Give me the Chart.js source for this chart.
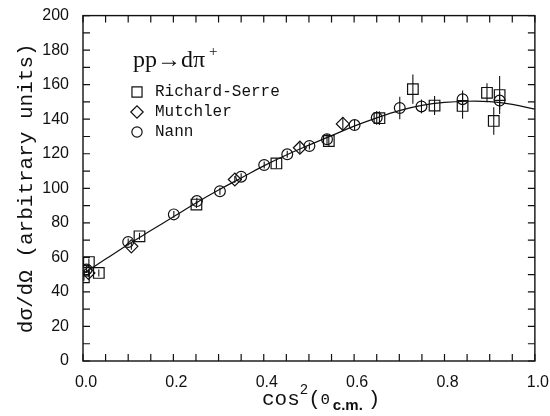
<!DOCTYPE html>
<html>
<head>
<meta charset="utf-8">
<script src="https://cdn.jsdelivr.net/npm/chart.js@4.4.1/dist/chart.umd.min.js"></script>
<style>
  body { margin: 0; background: #fff; }
  canvas { display: block; }
</style>
</head>
<body>
<canvas id="grafico" width="550" height="416"></canvas>
<script>
// Richard-Serre (quadrados)
const rsX = [0.002, 0.002, 0.013, 0.035, 0.125, 0.251, 0.428, 0.544, 0.656, 0.730, 0.778, 0.840, 0.894, 0.909, 0.922];
const rsY = [48.5, 52.3, 57.3, 51.0, 72.2, 90.6, 114.4, 127.4, 140.6, 157.4, 147.9, 147.7, 155.3, 139.0, 154.0];
const rsErr = [2, 2, 2, 2, 2, 2, 3, 3, 4, 8.5, 5.5, 7.5, 5.5, 8, 11];

// Mutchler (losangos)
const muX = [0.012, 0.107, 0.336, 0.480, 0.575];
const muY = [51.0, 66.4, 105.1, 123.5, 137.3];
const muErr = [2, 2, 2, 3, 4];

// Nann (circulos)
const naX = [0.008, 0.100, 0.201, 0.252, 0.303, 0.350, 0.401, 0.452, 0.501, 0.540, 0.601, 0.650, 0.701, 0.749, 0.840, 0.922];
const naY = [53.0, 68.9, 84.9, 92.6, 98.3, 106.7, 113.5, 119.7, 124.5, 128.4, 136.6, 140.8, 146.5, 147.4, 151.6, 150.8];
const naErr = [2, 2, 2, 2, 2, 2, 2, 2, 2, 3, 3, 4, 6.5, 4, 5, 5];

// curva ajustada
const fitX = [0, 0.05, 0.1, 0.15, 0.2, 0.25, 0.3, 0.35, 0.4, 0.45, 0.5, 0.55, 0.6, 0.65, 0.7, 0.75, 0.8, 0.85, 0.9, 0.95, 1.0];
const fitY = [50.5, 59, 67.5, 75.5, 83.5, 91.5, 99, 106, 113, 119.3, 125, 130.5, 136, 140.8, 145, 148, 149.7, 150.4, 150.2, 148.6, 145.8];

const cor = '#111';

function pontos(xs, ys) {
  return xs.map((x, i) => ({ x: x, y: ys[i] }));
}

const serieBase = {
  borderColor: cor,
  backgroundColor: 'rgba(0,0,0,0)',
  pointBorderWidth: 1.2,
  showLine: false
};

// moldura e marcas de escala nos quatro lados
const moldura = {
  id: 'moldura',
  afterDatasetsDraw(chart) {
    const { ctx, chartArea: a, scales: { x, y } } = chart;
    ctx.save();
    ctx.strokeStyle = cor;
    ctx.lineWidth = 1.4;
    ctx.strokeRect(a.left, a.top, a.right - a.left, a.bottom - a.top);
    ctx.lineWidth = 1.2;
    ctx.beginPath();
    for (let v = 0; v <= 200; v += 10) {
      const py = y.getPixelForValue(v);
      ctx.moveTo(a.left, py); ctx.lineTo(a.left + 7, py);
      ctx.moveTo(a.right, py); ctx.lineTo(a.right - 7, py);
    }
    for (let i = 0; i <= 20; i++) {
      const px = x.getPixelForValue(i * 0.05);
      ctx.moveTo(px, a.bottom); ctx.lineTo(px, a.bottom - 7);
      ctx.moveTo(px, a.top); ctx.lineTo(px, a.top + 7);
    }
    ctx.stroke();
    ctx.restore();
  }
};

// barras de erro verticais
const barrasErro = {
  id: 'barrasErro',
  afterDatasetsDraw(chart) {
    const { ctx, scales: { x, y } } = chart;
    ctx.save();
    ctx.strokeStyle = cor;
    ctx.lineWidth = 1.1;
    chart.data.datasets.forEach(ds => {
      if (!ds.erros) return;
      ds.data.forEach((p, i) => {
        const px = x.getPixelForValue(p.x);
        ctx.beginPath();
        ctx.moveTo(px, y.getPixelForValue(p.y + ds.erros[i]));
        ctx.lineTo(px, y.getPixelForValue(p.y - ds.erros[i]));
        ctx.stroke();
      });
    });
    ctx.restore();
  }
};

// legenda e titulo do eixo x
const textos = {
  id: 'textos',
  afterDraw(chart) {
    const ctx = chart.ctx;
    ctx.save();
    ctx.fillStyle = cor;
    ctx.textBaseline = 'alphabetic';
    ctx.textAlign = 'left';

    ctx.font = '24px "Liberation Serif"';
    ctx.fillText('pp\u2192d\u03c0', 133, 67);
    ctx.font = '15px "Liberation Serif"';
    ctx.fillText('+', 209, 56);

    const entradas = chart.data.datasets.filter(ds => ds.erros);
    entradas.forEach((ds, i) => {
      const yy = 92 + i * 20;
      ctx.fillStyle = 'rgba(0,0,0,0)';
      ctx.strokeStyle = cor;
      ctx.lineWidth = 1.2;
      Chart.helpers.drawPoint(ctx, {
        pointStyle: ds.pointStyle,
        radius: ds.pointRadius * 0.95,
        borderWidth: 1.2
      }, 137, yy);
      ctx.fillStyle = cor;
      ctx.font = '16px "Liberation Mono"';
      ctx.textBaseline = 'middle';
      ctx.fillText(ds.label, 155, yy);
      ctx.textBaseline = 'alphabetic';
    });

    let xx = 262;
    const base = 405;
    const parte = (txt, fonte, dy) => {
      ctx.font = fonte;
      ctx.fillText(txt, xx, base + dy);
      xx += ctx.measureText(txt).width;
    };
    parte('cos', '21px "Liberation Mono"', 0);
    parte('2', '14px "Liberation Mono"', -11);
    parte('(', '21px "Liberation Mono"', 0);
    parte('\u0398', '15px "Liberation Mono"', -1);
    xx += 3;
    parte('c.m.', 'bold 15px "Liberation Sans"', 5);
    xx += 5;
    parte(')', '21px "Liberation Mono"', 0);
    ctx.restore();
  }
};

new Chart(document.getElementById('grafico').getContext('2d'), {
  type: 'scatter',
  data: {
    datasets: [
      {
        label: 'ajuste',
        data: pontos(fitX, fitY),
        showLine: true,
        pointRadius: 0,
        borderColor: cor,
        borderWidth: 1.2,
        tension: 0.4,
        fill: false
      },
      Object.assign({}, serieBase, {
        label: 'Richard-Serre',
        data: pontos(rsX, rsY),
        erros: rsErr,
        pointStyle: 'rect',
        pointRadius: 7.5
      }),
      Object.assign({}, serieBase, {
        label: 'Mutchler',
        data: pontos(muX, muY),
        erros: muErr,
        pointStyle: 'rectRot',
        pointRadius: 6.5
      }),
      Object.assign({}, serieBase, {
        label: 'Nann',
        data: pontos(naX, naY),
        erros: naErr,
        pointStyle: 'circle',
        pointRadius: 5.4
      })
    ]
  },
  options: {
    responsive: false,
    animation: false,
    layout: { padding: { top: 7, right: 10, left: 0, bottom: 0 } },
    plugins: {
      legend: { display: false },
      tooltip: { enabled: false }
    },
    scales: {
      x: {
        type: 'linear',
        min: 0,
        max: 1,
        grid: { display: false },
        border: { display: false },
        ticks: {
          stepSize: 0.2,
          color: cor,
          padding: 4,
          labelOffset: 3,
          maxRotation: 0,
          font: { family: 'Liberation Sans', size: 16 },
          callback: v => v.toFixed(1)
        },
        afterFit(escala) { escala.height = 55; }
      },
      y: {
        min: 0,
        max: 200,
        grid: { display: false },
        border: { display: false },
        ticks: {
          stepSize: 20,
          color: cor,
          padding: 6,
          font: { family: 'Liberation Sans', size: 16 }
        },
        title: {
          display: true,
          text: 'd\u03c3/d\u03a9 (arbitrary units)',
          color: cor,
          padding: { top: 14, bottom: 0 },
          font: { family: 'Liberation Mono', size: 21 }
        },
        afterFit(escala) { escala.width = 83; }
      }
    }
  },
  plugins: [moldura, barrasErro, textos]
});
</script>
</body>
</html>
